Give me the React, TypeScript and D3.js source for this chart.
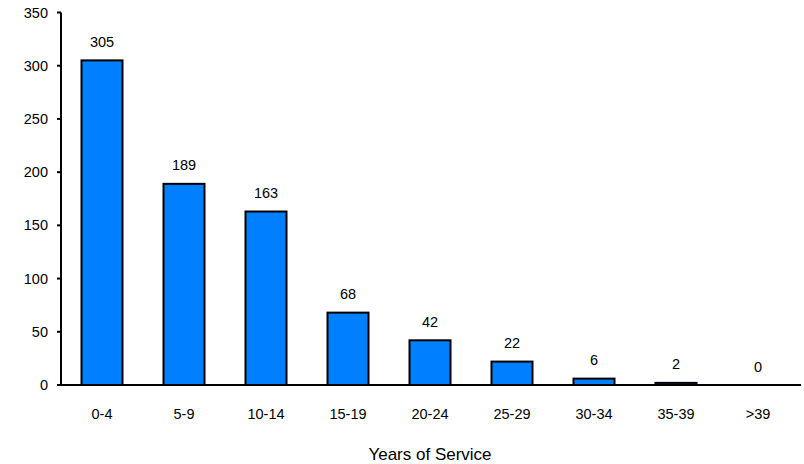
import React from "react";
import * as d3 from "d3";

const categories = ["0-4", "5-9", "10-14", "15-19", "20-24", "25-29", "30-34", "35-39", ">39"];
const counts = [305, 189, 163, 68, 42, 22, 6, 2, 0];
const yTicks = [0, 50, 100, 150, 200, 250, 300, 350];
const xTitle = "Years of Service";

const W = 804;
const H = 464;
const left = 61;
const right = 799;
const top = 12.5;
const bottom = 385;
const font = "Arial, 'Liberation Sans', sans-serif";

export default function App() {
  const x = d3
    .scaleBand<string>()
    .domain(categories)
    .range([left, right])
    .paddingInner(0.5)
    .paddingOuter(0.25);
  const y = d3.scaleLinear().domain([0, 350]).range([bottom, top]);
  return (
    <svg width={W} height={H} style={{ position: "absolute", left: 0, top: 0, background: "#fff" }}>
      {categories.map((c, i) => {
        const v = counts[i];
        const x0 = x(c)!;
        const yTop = y(v);
        const cx = x0 + x.bandwidth() / 2;
        return (
          <g key={c}>
            {v > 0 && (
              <rect x={x0} y={yTop} width={x.bandwidth()} height={bottom - yTop} fill="#0080ff" stroke="#000" strokeWidth={2} />
            )}
            <text x={cx} y={yTop - 13.5} textAnchor="middle" fontFamily={font} fontSize={14.5} fill="#000">
              {v}
            </text>
            <text x={cx} y={419} textAnchor="middle" fontFamily={font} fontSize={14.5} fill="#000">
              {c}
            </text>
          </g>
        );
      })}
      <line x1={left} x2={right + 2} y1={bottom} y2={bottom} stroke="#000" strokeWidth={2} />
      <line x1={left} x2={left} y1={top} y2={bottom + 1} stroke="#000" strokeWidth={2} />
      {yTicks.map((t) => (
        <g key={t}>
          <line x1={left - 4} x2={left} y1={y(t)} y2={y(t)} stroke="#000" strokeWidth={2} />
          <text x={left - 13} y={y(t) + 5} textAnchor="end" fontFamily={font} fontSize={14.5} fill="#000">
            {t}
          </text>
        </g>
      ))}
      <text x={430} y={460} textAnchor="middle" fontFamily={font} fontSize={17} fill="#000">
        {xTitle}
      </text>
    </svg>
  );
}
